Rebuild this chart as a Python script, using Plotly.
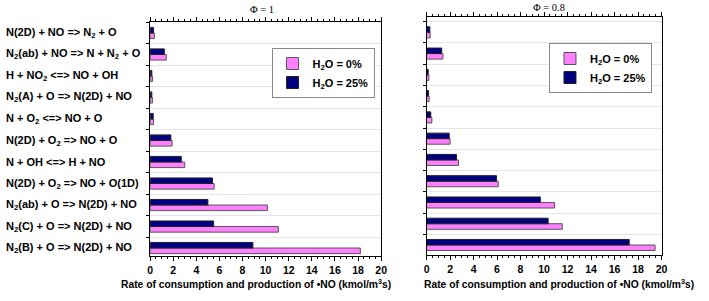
import plotly.graph_objects as go

categories = [
    "N<sub>2</sub>(B) + O => N(2D) + NO",
    "N<sub>2</sub>(C) + O => N(2D) + NO",
    "N<sub>2</sub>(ab) + O => N(2D) + NO",
    "N(2D) + O<sub>2</sub> => NO + O(1D)",
    "N + OH <=> H + NO",
    "N(2D) + O<sub>2</sub> => NO + O",
    "N + O<sub>2</sub> <=> NO + O",
    "N<sub>2</sub>(A) + O => N(2D) + NO",
    "H + NO<sub>2</sub> <=> NO + OH",
    "N<sub>2</sub>(ab) + NO => N + N<sub>2</sub> + O",
    "N(2D) + NO => N<sub>2</sub> + O",
]

phi1_h2o_0 = [18.2, 11.1, 10.15, 5.55, 3.0, 1.9, 0.3, 0.2, 0.2, 1.4, 0.37]
phi1_h2o_25 = [8.9, 5.5, 5.0, 5.4, 2.7, 1.8, 0.27, 0.15, 0.15, 1.23, 0.3]
phi08_h2o_0 = [19.45, 11.55, 10.9, 6.1, 2.72, 2.0, 0.45, 0.22, 0.2, 1.4, 0.31]
phi08_h2o_25 = [17.25, 10.35, 9.68, 5.95, 2.55, 1.93, 0.36, 0.17, 0.14, 1.29, 0.28]

series_names = ["H<sub>2</sub>O = 0%", "H<sub>2</sub>O = 25%"]
panel_titles = ["\u03a6 = 1", "\u03a6 = 0.8"]
x_title = "Rate of consumption and production of \u2022NO (kmol/m<sup>3</sup>s)"
x_ticks = [0, 2, 4, 6, 8, 10, 12, 14, 16, 18, 20]

PINK = "#FF80FF"
NAVY = "#000080"
FONT = "Arial, Liberation Sans, sans-serif"
W, H = 709, 301

fig = go.Figure()

panels = [
    (phi1_h2o_0, phi1_h2o_25, "x", "y", "legend"),
    (phi08_h2o_0, phi08_h2o_25, "x2", "y2", "legend2"),
]
for v0, v25, xa, ya, lg in panels:
    fig.add_trace(go.Bar(
        y=categories, x=v0, orientation="h", name=series_names[0],
        marker=dict(color=PINK, line=dict(color="#555555", width=1)),
        xaxis=xa, yaxis=ya, legend=lg,
    ))
    fig.add_trace(go.Bar(
        y=categories, x=v25, orientation="h", name=series_names[1],
        marker=dict(color=NAVY, line=dict(color="#222222", width=1)),
        xaxis=xa, yaxis=ya, legend=lg,
    ))

def px_x(p):
    return p / W

def px_y(p):
    return 1 - p / H

xcommon = dict(
    range=[0, 20], tickvals=x_ticks, ticks="outside", ticklen=4, tickcolor="black",
    showline=True, linecolor="black", linewidth=1, mirror="ticks", showgrid=False,
    zeroline=False, tickfont=dict(family=FONT, size=10.5, color="black", weight="bold"),
    minor=dict(dtick=0.5, ticks="outside", ticklen=2, tickcolor="black"),
)
ycommon = dict(
    type="category", categoryorder="array", categoryarray=categories,
    showticklabels=False, ticks="outside", ticklen=3, tickcolor="black",
    tickson="boundaries", showline=True, linecolor="black", linewidth=1, mirror=True,
    showgrid=True, gridcolor="#E6E6E6", gridwidth=1, zeroline=False,
)

fig.update_layout(
    width=W, height=H,
    margin=dict(l=0, r=0, t=0, b=0),
    paper_bgcolor="white", plot_bgcolor="white",
    barmode="group", bargap=0.48, bargroupgap=0.0,
    showlegend=True,
    xaxis=dict(xcommon, domain=[px_x(149), px_x(383)], anchor="y"),
    yaxis=dict(ycommon, domain=[1 - 256 / H, 1 - 22 / H], range=[-0.37, 10.51], anchor="x"),
    xaxis2=dict(xcommon, domain=[px_x(429), px_x(667)], anchor="y2"),
    yaxis2=dict(ycommon, domain=[1 - 255 / H, 1 - 17 / H], range=[-0.47, 10.72], anchor="x2"),
    legend=dict(
        x=px_x(272), y=px_y(48), xanchor="left", yanchor="top",
        bgcolor="white", bordercolor="#888888", borderwidth=1,
        font=dict(family=FONT, size=11, color="black", weight="bold"),
        traceorder="normal", itemwidth=30,
    ),
    legend2=dict(
        x=px_x(553), y=px_y(43), xanchor="left", yanchor="top",
        bgcolor="white", bordercolor="#888888", borderwidth=1,
        font=dict(family=FONT, size=11, color="black", weight="bold"),
        traceorder="normal", itemwidth=30,
    ),
)

annotations = []
# category labels, left aligned at the figure's left edge
for cat in categories:
    annotations.append(dict(
        x=px_x(1), xref="paper", y=cat, yref="y", xanchor="left", yanchor="middle",
        text="<b>" + cat + "</b>", showarrow=False,
        font=dict(family=FONT, size=11, color="black"),
    ))
serif = dict(family="Liberation Serif, Times New Roman, serif", size=10.5, color="black")
# panel titles
annotations.append(dict(x=px_x(262), y=px_y(10), xref="paper", yref="paper",
                        xanchor="center", yanchor="middle",
                        text=panel_titles[0], showarrow=False, font=serif))
annotations.append(dict(x=px_x(553), y=px_y(8), xref="paper", yref="paper",
                        xanchor="center", yanchor="middle",
                        text=panel_titles[1], showarrow=False, font=serif))
# x axis titles
annotations.append(dict(x=px_x(256), y=px_y(283), xref="paper", yref="paper",
                        xanchor="center", yanchor="middle",
                        text="<b>" + x_title + "</b>", showarrow=False,
                        font=dict(family=FONT, size=10.3, color="black")))
annotations.append(dict(x=px_x(563), y=px_y(283), xref="paper", yref="paper",
                        xanchor="center", yanchor="middle",
                        text="<b>" + x_title + "</b>", showarrow=False,
                        font=dict(family=FONT, size=10.3, color="black")))
fig.update_layout(annotations=annotations)

fig.write_html("out.html")
